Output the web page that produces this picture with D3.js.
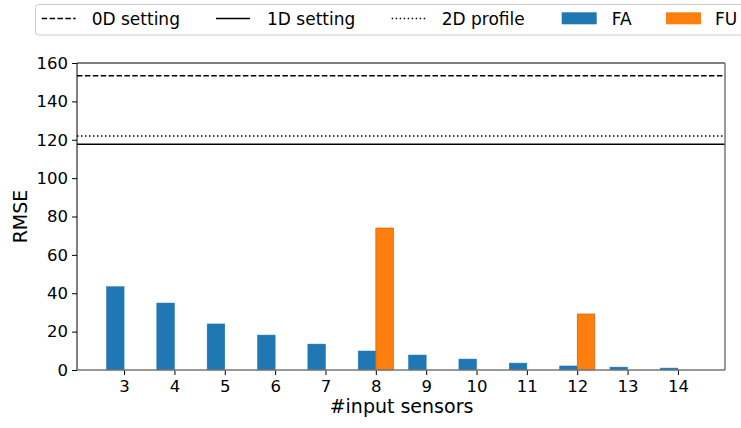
<!DOCTYPE html>
<html>
<head>
<meta charset="utf-8">
<script src="https://cdn.jsdelivr.net/npm/d3@7"></script>
<style>
  body { margin: 0; background: #fff; }
  text { font-family: "DejaVu Sans", sans-serif; fill: #000; }
</style>
</head>
<body>
<svg width="741" height="428"></svg>
<script>
// data
var sensors = [3, 4, 5, 6, 7, 8, 9, 10, 11, 12, 13, 14];
var faValues = [43.4, 34.9, 24.0, 18.2, 13.5, 9.9, 7.8, 5.7, 3.6, 2.1, 1.5, 1.0];
var fuValues = [0, 0, 0, 0, 0, 74.0, 0, 0, 0, 29.2, 0, 0];
var refNames = ["0D setting", "1D setting", "2D profile"];
var refValues = [153.4, 117.6, 121.9];
var refDash = ["5.5,2.4", null, "1.5,2.5"];
var yTicks = [0, 20, 40, 60, 80, 100, 120, 140, 160];

var svg = d3.select("svg");
// plot box (note: "top" is taken by window.top, so use other names)
var pLeft = 77, pRight = 725, pTop = 63, pBottom = 370;
var barW = 0.35;

// x: linear over sensor count, y: RMSE
var x = d3.scaleLinear().domain([2.065, 14.935]).range([pLeft, pRight]);
var y = d3.scaleLinear().domain([0, 160]).range([pBottom, pTop]);

// bars
var g = svg.append("g");
g.selectAll(".fa").data(sensors).enter().append("rect")
  .attr("x", function (d) { return x(d - barW); })
  .attr("width", function (d) { return x(d) - x(d - barW); })
  .attr("y", function (d, i) { return y(faValues[i]); })
  .attr("height", function (d, i) { return y(0) - y(faValues[i]); })
  .attr("fill", "#1f77b4").attr("stroke", "#1f77b4").attr("stroke-width", 0.5);
g.selectAll(".fu").data(sensors).enter().append("rect")
  .attr("x", function (d) { return x(d); })
  .attr("width", function (d) { return x(d + barW) - x(d); })
  .attr("y", function (d, i) { return y(fuValues[i]); })
  .attr("height", function (d, i) { return y(0) - y(fuValues[i]); })
  .attr("fill", "#ff7f0e").attr("stroke", "#b5600a").attr("stroke-width", 0.6);

// reference lines
refValues.forEach(function (v, i) {
  svg.append("line")
    .attr("x1", pLeft).attr("x2", pRight)
    .attr("y1", y(v)).attr("y2", y(v))
    .attr("stroke", "#000").attr("stroke-width", 1.5)
    .attr("stroke-dasharray", refDash[i]);
});

// axes
var xAxis = svg.append("g").attr("transform", "translate(0," + pBottom + ")")
  .call(d3.axisBottom(x).tickValues(sensors).tickSize(5).tickPadding(5).tickFormat(d3.format("d")));
var yAxis = svg.append("g").attr("transform", "translate(" + pLeft + ",0)")
  .call(d3.axisLeft(y).tickValues(yTicks).tickSize(5).tickPadding(4));
[xAxis, yAxis].forEach(function (a) {
  a.select(".domain").remove();
  a.selectAll("text").style("font-size", "16.5px").attr("font-family", "DejaVu Sans");
  a.selectAll("line").attr("stroke", "#000").attr("stroke-width", 1);
});

// spines
svg.append("line").attr("x1", pLeft).attr("x2", pLeft).attr("y1", pTop).attr("y2", pBottom)
  .attr("stroke", "#000");
svg.append("line").attr("x1", pLeft).attr("x2", pRight).attr("y1", pTop).attr("y2", pTop)
  .attr("stroke", "#000");
svg.append("line").attr("x1", pRight).attr("x2", pRight).attr("y1", pTop).attr("y2", pBottom)
  .attr("stroke", "#777").attr("stroke-width", 1.5);
svg.append("line").attr("x1", pLeft).attr("x2", pRight).attr("y1", pBottom).attr("y2", pBottom)
  .attr("stroke", "#777").attr("stroke-width", 1.5);

// axis labels
svg.append("text").attr("x", (pLeft + pRight) / 2 + 0.5).attr("y", 413)
  .attr("text-anchor", "middle").style("font-size", "19px").text("#input sensors");
svg.append("text")
  .attr("transform", "translate(27," + ((pTop + pBottom) / 2) + ") rotate(-90)")
  .attr("text-anchor", "middle").style("font-size", "19px").text("RMSE");

// legend
var legend = svg.append("g");
legend.append("rect").attr("x", 35.5).attr("y", 4.5).attr("width", 740).attr("height", 30.5)
  .attr("rx", 3).attr("fill", "#fff").attr("stroke", "#ccc");
var lineItems = [41.7, 216, 391.7];
var lineText = [91.7, 267, 441.7];
refNames.forEach(function (n, i) {
  legend.append("line").attr("x1", lineItems[i]).attr("x2", lineItems[i] + 34)
    .attr("y1", 18.5).attr("y2", 18.5)
    .attr("stroke", "#000").attr("stroke-width", 1.5).attr("stroke-dasharray", refDash[i]);
  legend.append("text").attr("x", lineText[i]).attr("y", 25).style("font-size", "17px").text(n);
});
var patchNames = ["FA", "FU"], patchColors = ["#1f77b4", "#ff7f0e"];
var patchX = [561.7, 666], patchText = [611.7, 715];
patchNames.forEach(function (n, i) {
  legend.append("rect").attr("x", patchX[i]).attr("y", 12.3).attr("width", 35).attr("height", 12)
    .attr("fill", patchColors[i]);
  legend.append("text").attr("x", patchText[i]).attr("y", 25).style("font-size", "17px").text(n);
});
</script>
</body>
</html>
